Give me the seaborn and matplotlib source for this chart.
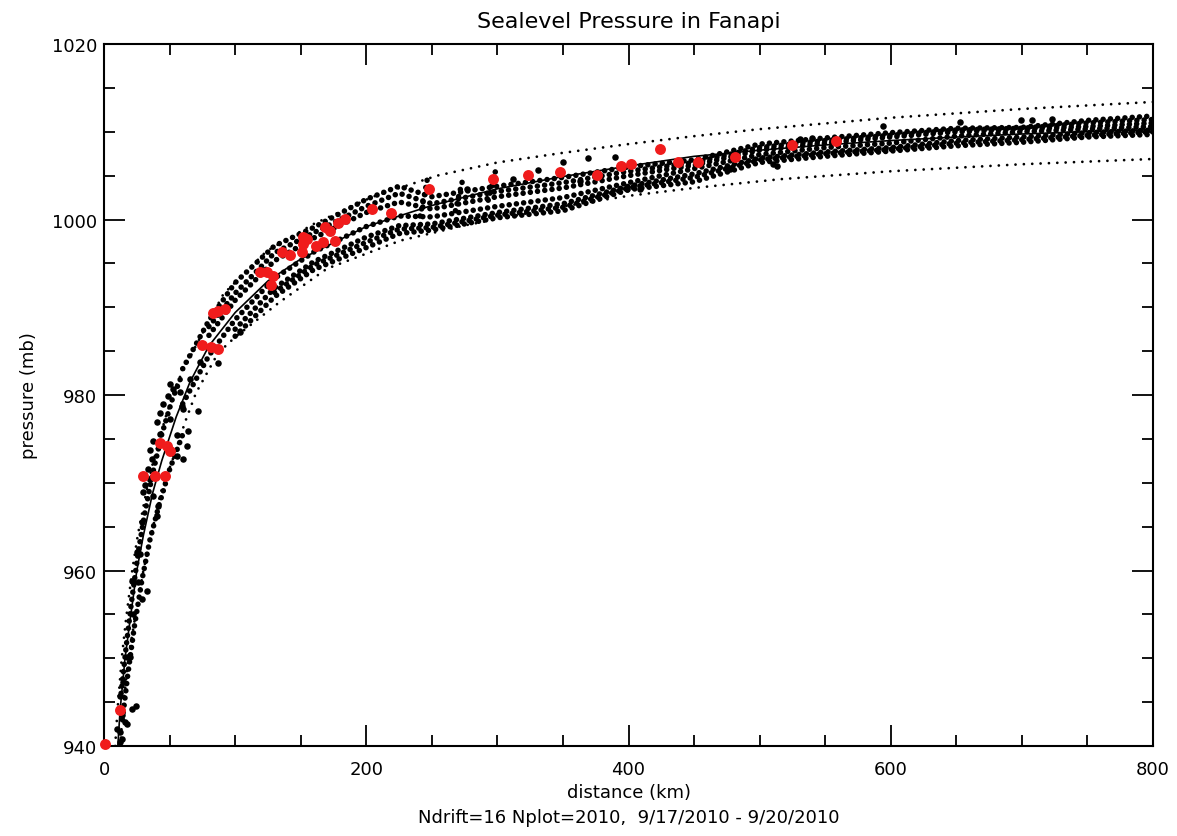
import numpy as np
import pandas as pd
import matplotlib
matplotlib.use("Agg")
import matplotlib.pyplot as plt
import seaborn as sns
from matplotlib.ticker import MultipleLocator

# ---- data (distance km, pressure mb) ----

# fitted profile and its dotted envelope
fit_x = [10.5, 12.2, 16, 20, 25, 30, 37, 44, 55, 65.6, 80, 100, 125, 150, 200, 250, 300,
         350, 400, 450, 500, 550, 600, 650, 700, 750, 800]
fit_y = [940, 944, 950, 954.5, 960, 964, 968.8, 972.5, 977.5, 981.5, 985.6, 989.4, 993, 995.5,
         999.2, 1001.6, 1003.5, 1004.9, 1006.1, 1007.2, 1007.9, 1008.5, 1009.0, 1009.4,
         1009.75, 1010.0, 1010.25]

upper_x = [8.5, 10.2, 13.5, 16.8, 21.5, 25.7, 32, 37.6, 47, 56, 70, 91, 124, 160, 205, 254,
           300, 350, 400, 450, 500, 600, 700, 800]
upper_y = [940, 944, 950, 954.5, 960, 964, 968.8, 972.5, 977.5, 981.5, 985.6, 991.5, 996.4,
           999.5, 1002.6, 1005.0, 1006.5, 1007.6, 1008.6, 1009.5, 1010.3, 1011.6, 1012.6, 1013.4]

lower_x = [12.5, 14.2, 18.5, 23.5, 30, 36, 43, 52, 62, 70, 87, 100, 134, 170, 226, 274, 350,
           400, 450, 516, 600, 700, 800]
lower_y = [940, 944, 950, 954.5, 960, 964, 968.8, 972.5, 977, 980.2, 984.8, 986.6, 990.6,
           994.4, 997.6, 999.3, 1001.5, 1002.7, 1003.6, 1004.6, 1005.5, 1006.3, 1006.9]

# drifter tracks through the dense band, sampled at band_x
band_x = [60, 80, 100, 130, 160, 200, 225, 250, 300, 350, 400, 450, 500, 550, 600, 650, 700, 750, 800]
track_1 = [983.0, 988.5, 992.8, 997.0, 999.1, 1002.3, 1003.8, 1002.6, 1003.8, 1004.8, 1006.0,
           1006.8, 1008.6, 1009.3, 1009.9, 1010.4, 1010.5, 1011.3, 1011.8]
track_2 = [975.5, 981.5, 986.7, 991.2, 994.3, 996.8, 998.4, 998.8, 1000.2, 1001.0, 1003.4,
           1004.3, 1006.5, 1007.2, 1007.8, 1008.4, 1008.8, 1009.4, 1009.7]
track_3 = [979.0, 984.5, 988.6, 993.3, 996.3, 999.2, 1000.4, 1000.3, 1001.5, 1002.5, 1004.2,
           1005.8, 1007.4, 1008.2, 1008.7, 1009.5, 1010.0, 1010.3, 1010.6]
track_4 = [981.5, 986.8, 990.8, 995.3, 997.9, 1000.8, 1002.0, 1001.2, 1002.6, 1003.6, 1005.0,
           1006.2, 1007.9, 1008.7, 1009.4, 1010.0, 1010.3, 1010.6, 1011.0]
track_5 = [977.5, 983.0, 987.5, 992.2, 995.2, 998.0, 999.3, 999.5, 1000.8, 1001.8, 1003.8,
           1005.2, 1007.0, 1007.7, 1008.2, 1009.0, 1009.4, 1009.9, 1010.2]
track_6 = [982.8, 987.8, 991.6, 996.2, 998.5, 1001.5, 1003.0, 1001.8, 1003.2, 1004.2, 1005.5,
           1006.5, 1008.2, 1009.0, 1009.6, 1010.2, 1010.4, 1011.0, 1011.4]
track_7 = [976.5, 982.2, 987.1, 991.7, 994.8, 997.4, 998.9, 999.1, 1000.5, 1001.4, 1003.6,
           1004.8, 1006.8, 1007.5, 1008.0, 1008.7, 1009.1, 1009.6, 1010.0]

# tracks in the steep inner part
steep_a_x = [13, 17, 21, 26, 31, 37, 44, 52, 60]
steep_a_y = [946, 951.5, 956.5, 962, 966.5, 971, 975.5, 979.5, 982.5]
steep_b_x = [14, 18, 23, 29, 35, 42, 50, 60]
steep_b_y = [943, 948, 953.5, 959, 963.5, 967.5, 971.5, 975.5]

# short spikes in the band
spike_1_x, spike_1_y = [241, 244, 247], [1000.4, 1002.5, 1005.0]
spike_2_x, spike_2_y = [268, 271, 274], [1001.0, 1003.0, 1004.8]
spike_3_x, spike_3_y = [293, 296, 299], [1002.2, 1004.0, 1005.8]

# loose drifter samples
loose_x = [12.2, 13.5, 9.7, 12.2, 16, 13.5, 17.3, 21.1, 24.4, 12.2, 14.7, 17.3, 19.8, 22.3,
           21.1, 26.2, 32.6, 28.8, 27.5, 40.2, 41.4, 37.6, 35.1, 30, 31.3, 33.8, 36.4, 35.1,
           37.6, 42.7, 40.2, 42.7, 45.2, 49, 52.9, 58, 60.5, 64.3, 63.1, 60.5, 55.5, 59.3,
           50.3, 55.5, 71.9, 65.6, 50.3, 24.9, 28.8, 73, 87, 104,
           350, 369, 390, 331, 312, 277, 363, 531, 540, 594, 653, 699, 708, 723, 477.5, 399,
           409, 510, 513]
loose_y = [940.5, 940.8, 941.9, 941.6, 942.7, 943.5, 942.5, 944.2, 944.6, 945.7, 947.3, 950.1,
           950.1, 955.0, 958.8, 958.7, 957.7, 956.8, 961.9, 966.2, 967.4, 968.5, 970.4, 968.9,
           969.7, 971.6, 972.7, 973.7, 974.8, 975.6, 976.9, 978.0, 979.0, 979.9, 980.7, 980.3,
           978.4, 975.9, 974.2, 972.7, 973.1, 978.8, 977.3, 975.4, 978.2, 981.8, 981.3, 962.1,
           965.5, 983.8, 983.7, 987.2,
           1006.6, 1007.0, 1007.1, 1005.7, 1004.6, 1003.5, 1004.4, 1009.2, 1009.3, 1010.7,
           1011.1, 1011.3, 1011.3, 1011.5, 1005.8, 1003.5, 1003.5, 1006.3, 1006.1]

# red observations
red_x = [1, 12, 30, 39, 46.5, 43, 48, 50, 74.5, 81.4, 87.2, 83.4, 87.2, 92.3, 119, 124, 129,
         127, 135.5, 142, 150.8, 152, 154.6, 152, 162, 167, 168.6, 172.4, 176.2, 178.3, 183.8,
         204, 219, 248, 297, 323, 348, 376, 394, 402, 424, 437.6, 453, 481, 525, 558]
red_y = [940.2, 944.1, 970.8, 970.8, 970.8, 974.5, 974.2, 973.6, 985.7, 985.5, 985.3, 989.4,
         989.6, 989.8, 994.0, 994.0, 993.6, 992.5, 996.3, 996.0, 996.3, 997.2, 997.8, 998.0,
         997.0, 997.4, 999.1, 998.7, 997.6, 999.6, 1000.1, 1001.2, 1000.7, 1003.5, 1004.6,
         1005.1, 1005.4, 1005.1, 1006.1, 1006.3, 1008.0, 1006.5, 1006.5, 1007.1, 1008.5, 1008.9]

# ---- plot ----
sns.set_theme(style="white")
plt.rcParams['font.family'] = ['DejaVu Sans']
plt.rcParams.update({
    'xtick.direction': 'in', 'ytick.direction': 'in',
    'xtick.top': True, 'ytick.right': True,
    'xtick.bottom': True, 'ytick.left': True,
    'axes.edgecolor': 'black', 'axes.linewidth': 1.5,
    'text.color': 'black', 'axes.labelcolor': 'black',
    'xtick.color': 'black', 'ytick.color': 'black',
})

fig = plt.figure(figsize=(11.77, 8.37), dpi=100)
ax = fig.add_axes([0.0884, 0.1075, 0.8912, 0.8387])

chain = dict(color='black', linewidth=4.0, linestyle=(0, (0.01, 1.3)),
             dash_capstyle='round', estimator=None, sort=False, ax=ax)

tracks = [(track_1, 0), (track_2, 2), (track_3, 0), (track_4, 1),
          (track_5, 2), (track_6, 1), (track_7, 3)]
for ys, start in tracks:
    sns.lineplot(x=band_x[start:], y=ys[start:], **chain)

for xs, ys in [(steep_a_x, steep_a_y), (steep_b_x, steep_b_y),
               (spike_1_x, spike_1_y), (spike_2_x, spike_2_y), (spike_3_x, spike_3_y)]:
    sns.lineplot(x=xs, y=ys, **chain)

sns.scatterplot(x=loose_x, y=loose_y, color='black', s=22, linewidth=0, ax=ax)

# fit and envelope
sns.lineplot(x=fit_x, y=fit_y, color='black', linewidth=1.2, estimator=None, sort=False, ax=ax)
env = dict(color='black', linewidth=2.0, linestyle=(0, (0.01, 3.0)),
           dash_capstyle='round', estimator=None, sort=False, ax=ax)
sns.lineplot(x=upper_x, y=upper_y, **env)
sns.lineplot(x=lower_x, y=lower_y, **env)

sns.scatterplot(x=red_x, y=red_y, color='#f01c1c', s=62, linewidth=0, ax=ax,
                clip_on=False, zorder=5)

ax.set_xlim(0, 800)
ax.set_ylim(940, 1020)
ax.xaxis.set_major_locator(MultipleLocator(200))
ax.xaxis.set_minor_locator(MultipleLocator(50))
ax.yaxis.set_major_locator(MultipleLocator(20))
ax.yaxis.set_minor_locator(MultipleLocator(5))
ax.tick_params(which='major', length=15, width=1.3, labelsize=13)
ax.tick_params(which='minor', length=8, width=1.3)
ax.tick_params(axis='x', which='major', pad=10)
ax.tick_params(axis='y', which='major', pad=5)

ax.set_title("Sealevel Pressure in Fanapi", fontsize=16, pad=12)
ax.set_xlabel("distance (km)", fontsize=13, labelpad=4)
ax.set_ylabel("pressure (mb)", fontsize=13, labelpad=10)
fig.text(0.534, 0.0227, "Ndrift=16 Nplot=2010,  9/17/2010 - 9/20/2010",
         ha='center', va='center', fontsize=13)

fig.savefig("out.png", dpi=100)
